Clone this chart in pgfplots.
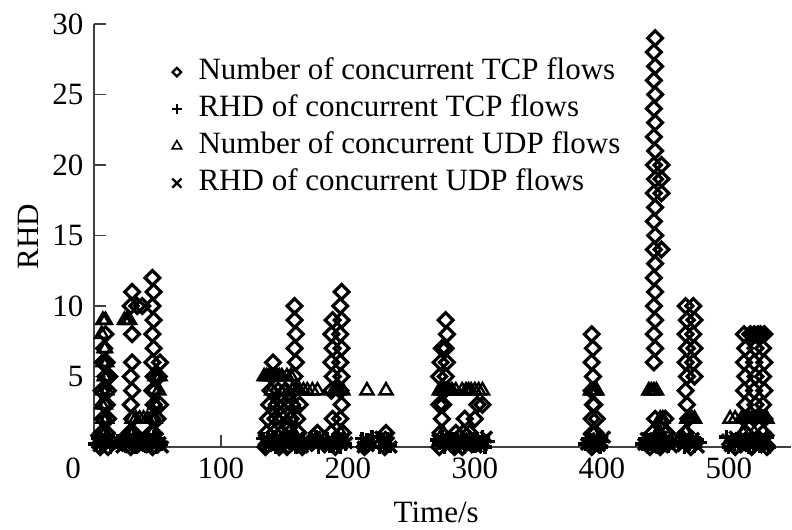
\documentclass[border=0pt]{standalone}
\usepackage{fontspec}
\setmainfont{Liberation Serif}
\usepackage{pgfplots}
\pgfplotsset{compat=1.18}
\pgfplotsset{
  limgA/.style={legend image code/.code={\draw[##1, line width=2.2bp, mark size=3bp] plot coordinates {(5bp,0bp)}; \path (0bp,0bp) (25bp,0bp);}},
  limgB/.style={legend image code/.code={\draw[##1, line width=2.2bp, mark size=5bp] plot coordinates {(5bp,0bp)}; \path (0bp,0bp) (25bp,0bp);}},
  limgC/.style={legend image code/.code={\draw[##1, line width=1.6bp, mark size=5.5bp] plot coordinates {(5bp,0bp)}; \path (0bp,0bp) (25bp,0bp);}},
  limgD/.style={legend image code/.code={\draw[##1, line width=2.2bp, mark size=6.5bp] plot coordinates {(5bp,0bp)}; \path (0bp,0bp) (25bp,0bp);}},
}
\begin{document}
\fontsize{31bp}{37bp}\selectfont
\begin{tikzpicture}
\useasboundingbox (-94bp,-83bp) rectangle (698bp,447bp);
\begin{axis}[
  at={(0,0)}, anchor=south west,
  width=697bp, height=423bp, scale only axis,
  xmin=0, xmax=549, ymin=0, ymax=30,
  axis x line=bottom, axis y line=left,
  axis line style={-, line width=1.6bp, black!75},
  every tick/.style={line width=1.6bp, black!75},
  major tick length=12bp, tick align=inside,
  xtick={0,100,...,500},
  xticklabels={\makebox[0pt][r]{0\kern13bp},100,200,300,400,500},
  ytick={5,10,...,30},
  /pgf/number format/assume math mode=true,
  clip=false,
  xlabel={Time/s}, ylabel={RHD},
  xlabel style={at={(axis description cs:0.491,0)}, anchor=base, yshift=-75bp},
  ylabel style={at={(axis description cs:-0.0947,0.497)}, anchor=center},
  legend style={draw=none, fill=none, inner sep=0pt, at={(0.109,0.921)}, anchor=north west,
    nodes={inner sep=0pt, text height=22bp, text depth=7bp, anchor=west}, row sep=8bp, column sep=0bp},
  legend cell align=left,
]
\addplot[only marks, black, line width=3.2bp, mark=square, mark size=5.2bp, mark options={rotate=45}, limgA]
coordinates {
(5,0)(6,1)(7,2)(8,3)(6,4)(9,5)(7,6)(8,7)(9,8)(10,1)(11,2)(10,3)(11,4)(12,5)(10,6)(11,0)
(28,1)(29,0)(30,2)(29,3)(30,4)(29,5)(30,6)(30,8)(29,10)(30,11)(31,1)(34,10)(38,10)
(46,0)(47,1)(46,2)(47,3)(46,4)(47,5)(46,6)(47,7)(46,8)(47,9)(46,10)(47,11)(46,12)(52,3)(51,5)(52,6)(50,2)(45,1)(48,4)
(135,0)(136,1)(137,2)(138,3)(139,4)(140,5)(141,6)(142,1)(143,2)(144,3)(145,4)(146,0)(148,1)(149,2)(150,3)(151,4)(152,0)(154,1)(155,2)(156,3)(157,4)(158,5)(159,6)(158,7)(159,8)(158,9)(158,10)(160,2)(161,1)(162,3)(164,0)(176,1)
(187,1)(188,2)(187,4)(188,5)(187,6)(188,7)(187,8)(188,9)(194,2)(195,3)(194,4)(195,5)(194,6)(195,7)(194,8)(195,9)(194,10)(195,11)(190,0)(196,1)
(213,0)(229,0)(230,1)
(272,0)(273,1)(274,2)(275,3)(276,4)(277,5)(278,6)(277,7)(278,8)(277,9)(272,5)(273,6)(274,7)(272,3)(285,1)(284,0)(292,2)(291,1)(300,2)(302,3)(306,3)(296,1)(290,0)
(392,0)(393,1)(392,2)(393,3)(392,4)(393,5)(392,6)(393,7)(392,8)(395,1)(396,2)(394,3)
(438,0)(440,1)(442,2)(441,6)(442,7)(441,8)(442,9)(441,10)(442,11)(441,12)(442,13)(441,14)(442,15)(441,16)(442,17)(441,18)(442,19)(441,20)(442,21)(441,22)(442,23)(441,24)(442,25)(441,26)(442,27)(441,28)(442,29)(447,14)(447,18)(447,19)(447,20)(450,2)(451,1)(446,0)
(466,1)(467,3)(466,4)(467,5)(466,6)(467,7)(466,8)(467,9)(466,10)(472,10)(473,9)(472,8)(473,7)(472,6)(473,5)(470,0)(468,2)
(513,1)(512,2)(513,3)(512,4)(513,5)(512,6)(513,7)(512,8)(520,2)(521,3)(520,4)(521,5)(520,6)(521,7)(517,8)(520,8)(523,8)(527,1)(528,2)(527,3)(528,4)(527,5)(528,6)(527,7)(528,8)(525,8)(505,0)(518,0)(530,0)
};
\addlegendentry{Number of concurrent TCP flows}
\addplot[only marks, black, line width=3.4bp, mark=+, mark size=7bp, limgB]
coordinates {
(1,.2)(3,.6)(5,.1)(7,.5)(9,.3)(11,.7)(13,0)
(19,.4)(21,.2)(23,.6)(25,.1)(27,.5)(29,.3)(31,.7)(33,0)(35,.4)(37,.2)(39,.6)(41,.1)(43,.5)(45,.3)(47,.7)(49,0)(51,.4)(53,.2)
(133,.6)(135,.1)(137,.5)(139,.3)(141,.7)(143,0)(145,.4)(147,.2)(149,.6)(151,.1)(153,.5)(155,.3)(157,.7)(159,0)(161,.4)(163,.2)(165,.6)(167,.1)
(171,.5)(173,.3)(175,.7)(177,0)(179,.4)(181,.2)
(184,.6)(186,.1)(188,.5)(190,.3)(192,.7)(194,0)(196,.4)(198,.2)
(211,.6)(213,.1)(215,.5)(217,.3)(219,.7)
(225,0)(227,.4)(229,.2)(231,.6)(233,.1)
(270,.5)(272,.3)(274,.7)(276,0)(278,.4)(280,.2)(282,.6)(284,.1)(286,.5)(288,.3)(290,.7)(292,0)(294,.4)(296,.2)(298,.6)(300,.1)(302,.5)(304,.3)(306,.7)(308,0)(310,.4)
(387,.2)(389,.6)(391,.1)(393,.5)(395,.3)(397,.7)(399,0)(401,.4)
(432,.2)(434,.6)(436,.1)(438,.5)(440,.3)(442,.7)(444,0)(446,.4)(448,.2)(450,.6)(452,.1)(454,.5)
(461,.3)(463,.7)(465,0)(467,.4)(469,.2)(471,.6)(473,.1)(475,.5)(477,.3)
(498,.7)(500,0)(502,.4)(504,.2)(506,.6)(508,.1)(510,.5)(512,.3)(514,.7)(516,0)(518,.4)(520,.2)(522,.6)(524,.1)(526,.5)(528,.3)(530,.7)(532,0)
};
\addlegendentry{RHD of concurrent TCP flows}
\addplot[only marks, black, line width=2.4bp, mark=triangle, mark size=7.5bp, limgC]
coordinates {
(6,1)(7,2)(6,3)(7,4)(8,5)(7,6)(8,7)(6,8)(7,9)(9,9)(9,1)(10,2)(9,3)(10,4)(9,5)(10,6)(9,7)
(24,9)(26,9)(28,9)
(30,2)(33,2)(36,2)(39,2)(42,2)(45,2)(48,2)(31,1)(46,1)
(48,5)(50,5)(52,5)(49,3)(51,4)(48,3)
(134,5)(136,5)(138,5)(140,5)(142,5)(144,5)(146,5)(148,5)(152,5)(155,5)
(140,4)(142,3)(145,2)(147,1)(150,4)(152,3)(155,2)(157,1)(158,3)(160,4)(162,4)(165,4)(168,4)(172,4)(176,4)(156,4)
(189,4)(191,4)(193,4)(196,4)(194,1)
(215,4)(230,4)
(272,4)(274,4)(276,4)(278,4)(280,4)(282,4)(285,4)(290,4)(293,4)(295,4)(297,4)(300,4)(303,4)(306,4)(275,1)
(391,4)(393,4)(395,4)(396,4)(393,1)
(437,4)(439,4)(441,4)(443,4)(444,1)(446,1)(448,2)(450,1)(446,2)
(467,2)(469,2)(471,2)(473,2)(466,1)
(501,2)(505,2)(510,2)(512,2)(514,2)(516,2)(518,2)(520,2)(522,2)(524,2)(526,2)(528,2)(530,2)(511,1)(520,1)
};
\addlegendentry{Number of concurrent UDP flows}
\addplot[only marks, black, line width=3.4bp, mark=x, mark size=8bp, limgD]
coordinates {
(2,.5)(4,.1)(6,.4)(8,.7)(10,.2)(12,.6)
(20,.3)(22,0)(24,.5)(26,.1)(28,.4)(30,.7)(32,.2)(34,.6)(36,.3)(38,0)(40,.5)(42,.1)(44,.4)(46,.7)(48,.2)(50,.6)(52,.3)(54,0)
(134,.5)(136,.1)(138,.4)(140,.7)(142,.2)(144,.6)(146,.3)(148,0)(150,.5)(152,.1)(154,.4)(156,.7)(158,.2)(160,.6)(162,.3)(164,0)(166,.5)(168,.1)
(172,.4)(174,.7)(176,.2)(178,.6)(180,.3)
(185,0)(187,.5)(189,.1)(191,.4)(193,.7)(195,.2)(197,.6)(199,.3)
(212,0)(214,.5)(216,.1)(218,.4)
(226,.7)(228,.2)(230,.6)(232,.3)(234,0)
(271,.5)(273,.1)(275,.4)(277,.7)(279,.2)(281,.6)(283,.3)(285,0)(287,.5)(289,.1)(291,.4)(293,.7)(295,.2)(297,.6)(299,.3)(301,0)(303,.5)(305,.1)(307,.4)(309,.7)
(388,.2)(390,.6)(392,.3)(394,0)(396,.5)(398,.1)(400,.4)(402,.7)
(433,.2)(435,.6)(437,.3)(439,0)(441,.5)(443,.1)(445,.4)(447,.7)(449,.2)(451,.6)(453,.3)(455,0)
(462,.5)(464,.1)(466,.4)(468,.7)(470,.2)(472,.6)(474,.3)(476,0)
(499,.5)(501,.1)(503,.4)(505,.7)(507,.2)(509,.6)(511,.3)(513,0)(515,.5)(517,.1)(519,.4)(521,.7)(523,.2)(525,.6)(527,.3)(529,0)(531,.5)
};
\addlegendentry{RHD of concurrent UDP flows}
\end{axis}
\end{tikzpicture}
\end{document}
